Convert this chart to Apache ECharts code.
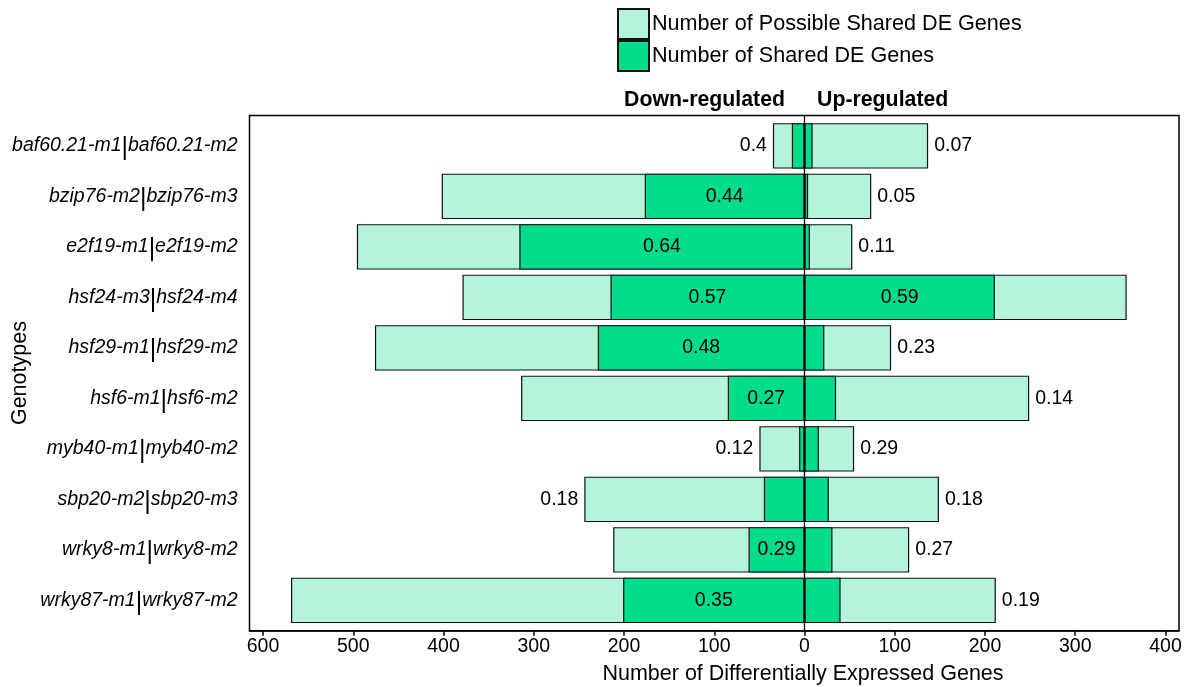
<!DOCTYPE html>
<html>
<head>
<meta charset="utf-8">
<title>Shared DE genes per genotype pair</title>
<script src="https://cdn.jsdelivr.net/npm/echarts@6/dist/echarts.min.js"></script>
<style>
  html, body { margin: 0; padding: 0; background: #fff; }
  #chart { width: 1190px; height: 687px; }
</style>
</head>
<body>
<div id="chart"></div>
<script>
// Genotype pairs, top to bottom
const genotypes = [
  'baf60.21-m1|baf60.21-m2',
  'bzip76-m2|bzip76-m3',
  'e2f19-m1|e2f19-m2',
  'hsf24-m3|hsf24-m4',
  'hsf29-m1|hsf29-m2',
  'hsf6-m1|hsf6-m2',
  'myb40-m1|myb40-m2',
  'sbp20-m2|sbp20-m3',
  'wrky8-m1|wrky8-m2',
  'wrky87-m1|wrky87-m2'
];

// Gene counts (down-regulated drawn to the left of zero)
const downPossible = [35, 402, 496, 379, 476, 314, 50, 244, 212, 569];
const downShared   = [14, 177, 316, 215, 229, 85, 6, 45, 62, 201];
const upPossible   = [137, 74, 53, 357, 96, 249, 55, 149, 116, 212];
const upShared     = [9, 4, 6, 211, 22, 35, 16, 27, 31, 40];

// Axis tick values
const xTickValues = [-600, -500, -400, -300, -200, -100, 0, 100, 200, 300, 400];

const POSSIBLE = 'Number of Possible Shared DE Genes';
const SHARED = 'Number of Shared DE Genes';
const LIGHT = '#b3f4da';
const DARK = '#00dd8a';
const FONT = '"Liberation Sans", Arial, Helvetica, sans-serif';

const X_MIN = -615, X_MAX = 415;
const INSIDE_MIN = 50;   // shared bars at least this long carry their ratio inside

function ratioText(shared, possible) {
  return String(Math.round(shared / possible * 100) / 100);
}

const labelBase = { color: '#000', fontSize: 19.5, fontFamily: FONT, distance: 6 };
const barBase = {
  type: 'bar',
  xAxisIndex: 1,
  yAxisIndex: 1,
  barWidth: '90%',
  barGap: '-100%',
  itemStyle: { borderColor: '#111', borderWidth: 1.2 }
};

function possibleSeries(possible, shared, sign, pos) {
  return Object.assign({}, barBase, {
    name: POSSIBLE,
    z: 2,
    itemStyle: Object.assign({}, barBase.itemStyle, { color: LIGHT }),
    data: possible.map((v, i) => ({
      value: sign * v,
      label: shared[i] >= INSIDE_MIN ? { show: false } :
        Object.assign({ show: true, position: pos, formatter: ratioText(shared[i], v) }, labelBase)
    }))
  });
}

function sharedSeries(shared, possible, sign) {
  return Object.assign({}, barBase, {
    name: SHARED,
    z: 3,
    itemStyle: Object.assign({}, barBase.itemStyle, { color: DARK }),
    data: shared.map((v, i) => ({
      value: sign * v,
      label: shared[i] >= INSIDE_MIN ?
        Object.assign({ show: true, position: 'inside', formatter: ratioText(v, possible[i]) }, labelBase) :
        { show: false }
    }))
  });
}

const chart = echarts.init(document.getElementById('chart'), null, { renderer: 'canvas' });

chart.setOption({
  animation: false,
  backgroundColor: '#fff',
  textStyle: { fontFamily: FONT },
  legend: {
    orient: 'vertical',
    left: 617,
    top: 8,
    padding: 0,
    itemWidth: 31,
    itemHeight: 30,
    itemGap: 0,
    icon: 'rect',
    selectedMode: false,
    data: [POSSIBLE, SHARED],
    textStyle: { fontSize: 21.6, color: '#000', fontFamily: FONT, padding: [0, 0, 0, -2] }
  },
  grid: [
    // outer plot frame
    { left: 249.5, right: 11, top: 115.5, bottom: 56.3, show: true,
      borderColor: '#000', borderWidth: 1.5, backgroundColor: 'transparent',
      outerBoundsMode: 'none' },
    // bar area (category bands inset from the frame)
    { left: 249.5, right: 11, top: 120.6, bottom: 61.4, outerBoundsMode: 'none' }
  ],
  xAxis: [
    {
      gridIndex: 0, type: 'value', min: X_MIN, max: X_MAX, position: 'bottom',
      axisLine: { show: true, onZero: false, lineStyle: { color: '#000', width: 1.5 } },
      axisTick: { show: true, length: 5, customValues: xTickValues, lineStyle: { color: '#000', width: 1.5 } },
      axisLabel: { show: true, customValues: xTickValues, margin: 6, fontSize: 19.5, color: '#000',
                   fontFamily: FONT, formatter: v => String(Math.abs(v)) },
      splitLine: { show: false }
    },
    {
      gridIndex: 1, type: 'value', min: X_MIN, max: X_MAX, show: false,
      splitLine: { show: false }
    }
  ],
  yAxis: [
    {
      // zero line spanning the whole frame
      gridIndex: 0, type: 'value', min: 0, max: 1, z: 10,
      axisLine: { show: true, onZero: true, lineStyle: { color: '#000', width: 1.3 } },
      axisTick: { show: false }, axisLabel: { show: false }, splitLine: { show: false }
    },
    {
      gridIndex: 1, type: 'category', inverse: true, data: genotypes,
      name: 'Genotypes', nameLocation: 'middle', nameGap: 218, nameRotate: 90,
      nameMoveOverlap: false,
      nameTextStyle: { fontSize: 21.5, color: '#000', fontFamily: FONT },
      axisLine: { show: false },
      axisTick: { show: true, alignWithLabel: true, length: 5, lineStyle: { color: '#000', width: 1.5 } },
      axisLabel: {
        margin: 12,
        formatter: v => {
          const parts = v.split('|');
          return '{it|' + parts[0] + '}{sep||}{it|' + parts[1] + '}';
        },
        rich: {
          it: { fontSize: 19.5, fontStyle: 'italic', color: '#000', fontFamily: FONT },
          sep: { fontSize: 25, fontStyle: 'normal', fontWeight: 'lighter', color: '#000',
                 fontFamily: FONT, padding: [5, 0, 0, 0] }
        }
      },
      splitLine: { show: false }
    }
  ],
  graphic: [
    { type: 'text', x: 785, y: 100,
      style: { text: 'Down-regulated', align: 'right', verticalAlign: 'middle',
               font: 'bold 21.3px ' + FONT, fill: '#000' } },
    { type: 'text', x: 817, y: 100,
      style: { text: 'Up-regulated', align: 'left', verticalAlign: 'middle',
               font: 'bold 21.3px ' + FONT, fill: '#000' } },
    { type: 'text', x: 803, y: 674,
      style: { text: 'Number of Differentially Expressed Genes', align: 'center', verticalAlign: 'middle',
               font: '21.5px ' + FONT, fill: '#000' } }
  ],
  series: [
    possibleSeries(downPossible, downShared, -1, 'left'),
    possibleSeries(upPossible, upShared, 1, 'right'),
    sharedSeries(downShared, downPossible, -1),
    sharedSeries(upShared, upPossible, 1)
  ]
});
</script>
</body>
</html>
